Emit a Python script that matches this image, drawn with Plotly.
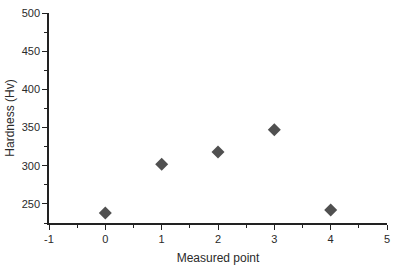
import plotly.graph_objects as go

points = [0, 1, 2, 3, 4]
hardness = [238, 302, 318, 347, 242]
x_ticks = [-1, 0, 1, 2, 3, 4, 5]
x_tick_labels = ["-1", "0", "1", "2", "3", "4", "5"]
y_ticks = [250, 300, 350, 400, 450, 500]

fig = go.Figure()
fig.add_trace(go.Scatter(
    x=points, y=hardness, mode="markers",
    marker=dict(symbol="diamond", size=10, color="#505050"),
    showlegend=False,
))

font = dict(family="Liberation Sans, Arial, sans-serif", size=11, color="#2a2a2a")
fig.update_layout(
    width=397, height=270,
    margin=dict(l=49, r=7, t=9, b=45),
    paper_bgcolor="white", plot_bgcolor="white",
    font=font,
)
fig.update_xaxes(
    range=[-1, 5], tickvals=x_ticks, ticktext=x_tick_labels,
    showgrid=False, zeroline=False,
    showline=True, linecolor="#222222", linewidth=1.5,
    ticks="outside", ticklen=5, tickwidth=1.2, tickcolor="#222222",
    minor=dict(ticks="outside", dtick=0.5, ticklen=3, tickcolor="#222222", showgrid=False),
    title=dict(text="Measured point", font=dict(size=12, color="#2a2a2a"), standoff=10),
)
fig.update_yaxes(
    range=[225, 500], tickvals=y_ticks, showgrid=False, zeroline=False,
    showline=True, linecolor="#222222", linewidth=1.5,
    ticks="outside", ticklen=5, tickwidth=1.2, tickcolor="#222222",
    minor=dict(ticks="outside", dtick=25, ticklen=3, tickcolor="#222222", showgrid=False),
    title=dict(text="Hardness (Hv)", font=dict(size=12, color="#2a2a2a"), standoff=4),
)
fig.write_html("out.html")
